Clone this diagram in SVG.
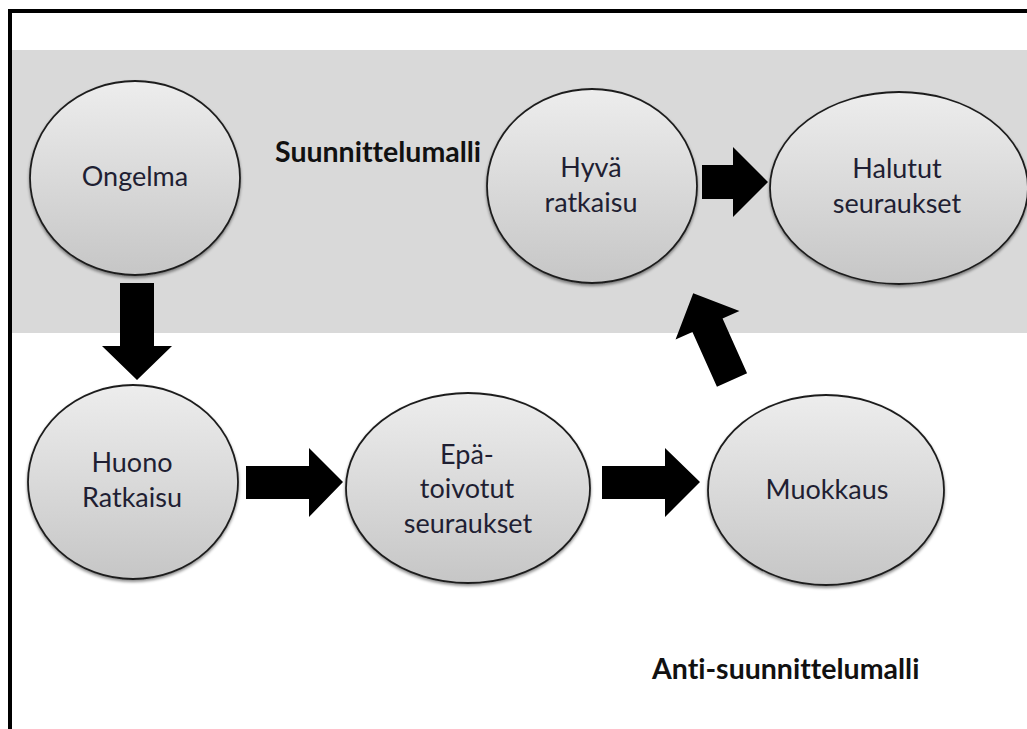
<svg xmlns="http://www.w3.org/2000/svg" width="1027" height="729" viewBox="0 0 1027 729">
  <defs>
    <linearGradient id="nodeFill" x1="0" y1="0" x2="0" y2="1">
      <stop offset="0" stop-color="#ededed"/>
      <stop offset="1" stop-color="#c6c6c6"/>
    </linearGradient>
    <filter id="shadow" x="-10%" y="-10%" width="120%" height="125%">
      <feDropShadow dx="0" dy="2" stdDeviation="1.6" flood-color="#000" flood-opacity="0.45"/>
    </filter>
  </defs>
  <style>
    text { font-variant-ligatures: none; }
    .node ellipse { fill: url(#nodeFill); stroke: #1e1e1e; stroke-width: 1.8; filter: url(#shadow); }
    .node text { font-family: Lato, "Open Sans", sans-serif; font-size: 27px; fill: #1f1f33; text-anchor: middle; }
    .label { font-family: Lato, "Open Sans", sans-serif; font-size: 28.5px; font-weight: bold; fill: #111; }
    .arrow { fill: #000; }
  </style>

  <!-- page background, shaded band and frame -->
  <rect x="0" y="0" width="1027" height="729" fill="#ffffff"/>
  <rect x="12" y="50" width="1015" height="283" fill="#d9d9d9"/>
  <path d="M10,729 V11 H1027" fill="none" stroke="#000" stroke-width="4"/>

  <!-- region labels -->
  <text class="label" x="275" y="162">Suunnittelumalli</text>
  <text class="label" x="652" y="679">Anti-suunnittelumalli</text>

  <!-- block arrows -->
  <g id="connectors">
    <polygon class="arrow" points="120,283 154,283 154,346 172,346 137,380 102,346 120,346"/>
    <polygon class="arrow" points="246,466 309,466 309,448 343,482 309,517 309,499 246,499"/>
    <polygon class="arrow" points="602,466 665,466 665,448 700,482 665,517 665,499 602,499"/>
    <polygon class="arrow" points="702,165 733,165 733,147 768,182 733,217 733,199 702,199"/>
    <polygon class="arrow" transform="translate(732,380) rotate(-114.1)" points="0,-16.5 60,-16.5 60,-35 95,0 60,35 60,16.5 0,16.5"/>
  </g>

  <g id="node-ongelma" class="node">
    <ellipse cx="135" cy="178" rx="105" ry="97"/>
    <text x="135" y="186">Ongelma</text>
  </g>

  <g id="node-hyva-ratkaisu" class="node">
    <ellipse cx="592" cy="186" rx="105" ry="97"/>
    <text x="591" y="177">Hyvä</text>
    <text x="591" y="212">ratkaisu</text>
  </g>

  <g id="node-halutut-seuraukset" class="node">
    <ellipse cx="899" cy="188" rx="129" ry="96"/>
    <text x="897" y="178">Halutut</text>
    <text x="897" y="213">seuraukset</text>
  </g>

  <g id="node-huono-ratkaisu" class="node">
    <ellipse cx="133" cy="482" rx="105" ry="97"/>
    <text x="132" y="472">Huono</text>
    <text x="132" y="507">Ratkaisu</text>
  </g>

  <g id="node-epatoivotut-seuraukset" class="node">
    <ellipse cx="468" cy="488" rx="122" ry="95"/>
    <text x="467" y="464">Epä-</text>
    <text x="467" y="498">toivotut</text>
    <text x="468" y="533">seuraukset</text>
  </g>

  <g id="node-muokkaus" class="node">
    <ellipse cx="826" cy="490" rx="118" ry="95"/>
    <text x="827" y="499">Muokkaus</text>
  </g>
</svg>
